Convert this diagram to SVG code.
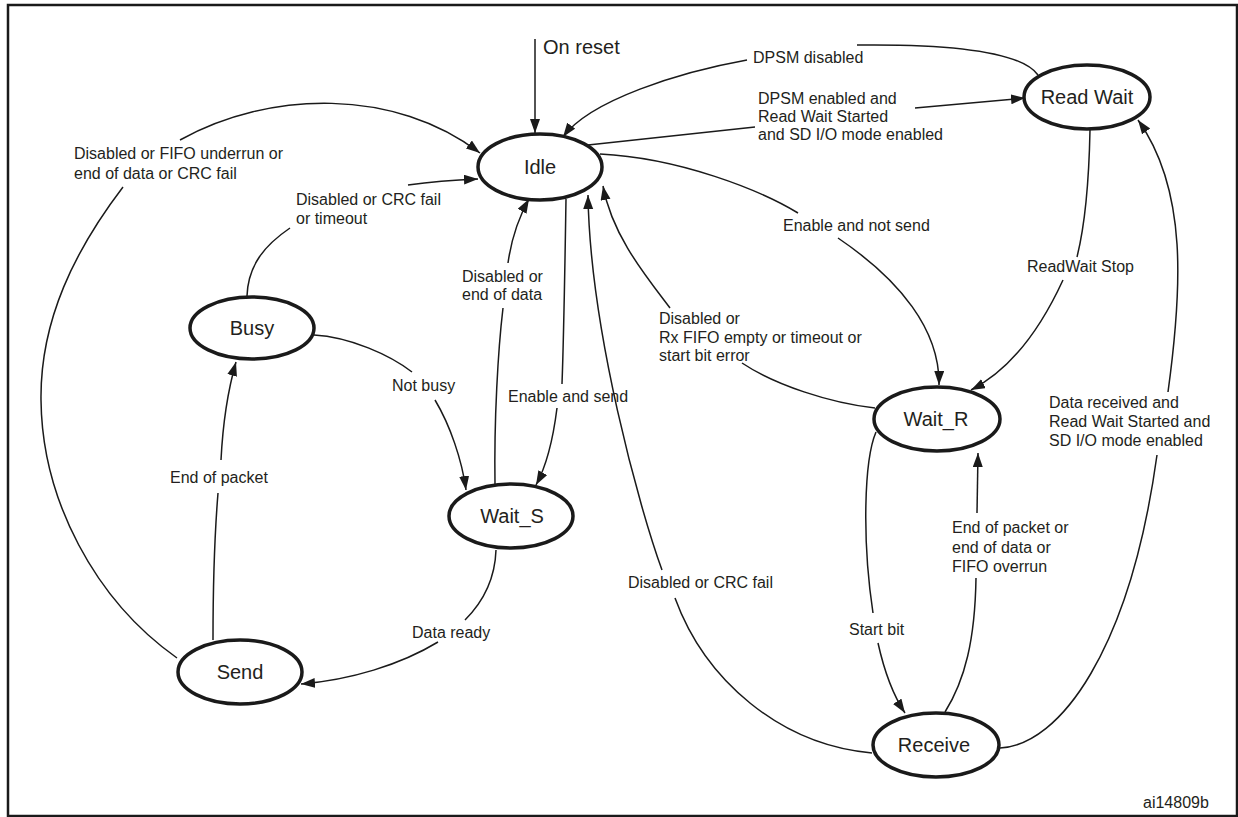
<svg xmlns="http://www.w3.org/2000/svg" width="1238" height="817" viewBox="0 0 1238 817">
<style>
.frame{fill:#fff;stroke:#1a1a1a;stroke-width:2.5}
.node ellipse{fill:#fff;stroke:#1a1a1a;stroke-width:3.5}
.node text{font-family:"Liberation Sans",Arial,sans-serif;font-size:20px;fill:#231f20;text-anchor:middle}
.lbl{font-family:"Liberation Sans",Arial,sans-serif;font-size:16px;fill:#231f20}
.big{font-size:20px}
#connectors path{fill:none;stroke:#1a1a1a;stroke-width:1.5}
</style>
<defs>
<marker id="arr" markerUnits="userSpaceOnUse" markerWidth="15" markerHeight="11" refX="14" refY="5" orient="auto">
<path d="M0,0 L14,5 L0,10 z" fill="#1a1a1a"/>
</marker>
</defs>
<rect class="frame" x="8" y="5" width="1229" height="811"/>
<g id="connectors">
<path d="M535,39 L535,133" marker-end="url(#arr)"/>
<path d="M1038,75 C1020,50 940,44 857,45"/>
<path d="M747,60 C680,72 590,100 563,137" marker-end="url(#arr)"/>
<path d="M588,145 L755,127"/>
<path d="M915,108 L1025,98" marker-end="url(#arr)"/>
<path d="M600,154 C680,158 760,190 798,213"/>
<path d="M838,238 C900,280 940,330 939,385" marker-end="url(#arr)"/>
<path d="M1090,130 C1089,180 1085,225 1077,257"/>
<path d="M1063,280 C1040,330 1010,370 971,390" marker-end="url(#arr)"/>
<path d="M1000,748 C1060,745 1130,650 1157,455"/>
<path d="M1168,392 C1182,290 1188,190 1138,120" marker-end="url(#arr)"/>
<path d="M875,408 C830,403 775,385 742,363"/>
<path d="M670,308 C645,275 612,235 603,186" marker-end="url(#arr)"/>
<path d="M872,753 C780,745 705,680 675,598"/>
<path d="M662,570 C640,510 590,330 588,195" marker-end="url(#arr)"/>
<path d="M876,432 C864,460 862,540 873,613"/>
<path d="M878,643 C884,670 893,695 905,713" marker-end="url(#arr)"/>
<path d="M945,712 C965,680 975,640 976,578"/>
<path d="M977,513 L978,453" marker-end="url(#arr)"/>
<path d="M177,658 C95,600 42,500 41,400 C40,320 75,250 123,187"/>
<path d="M180,140 C270,90 395,88 480,153" marker-end="url(#arr)"/>
<path d="M247,296 C248,265 265,245 290,228"/>
<path d="M408,185 C430,182 455,180 478,179" marker-end="url(#arr)"/>
<path d="M213,640 C213,580 215,530 218,493"/>
<path d="M221,460 C223,420 228,390 236,362" marker-end="url(#arr)"/>
<path d="M314,335 C350,337 390,355 412,372"/>
<path d="M435,400 C450,425 462,460 466,490" marker-end="url(#arr)"/>
<path d="M495,484 C494,420 498,350 503,308"/>
<path d="M508,263 C512,235 520,215 529,199" marker-end="url(#arr)"/>
<path d="M566,199 C565,260 564,330 562,384"/>
<path d="M557,408 C553,440 547,465 536,485" marker-end="url(#arr)"/>
<path d="M496,550 C495,580 483,602 465,620"/>
<path d="M438,642 C400,665 350,680 301,684" marker-end="url(#arr)"/>
</g>
<g id="node-idle" class="node"><ellipse cx="540" cy="167" rx="62" ry="33"/><text x="540" y="174">Idle</text></g>
<g id="node-readwait" class="node"><ellipse cx="1087" cy="97" rx="63" ry="32"/><text x="1087" y="104">Read Wait</text></g>
<g id="node-busy" class="node"><ellipse cx="252" cy="328" rx="62" ry="31"/><text x="252" y="335">Busy</text></g>
<g id="node-waits" class="node"><ellipse cx="511" cy="516" rx="62" ry="32"/><text x="512" y="523">Wait_S</text></g>
<g id="node-send" class="node"><ellipse cx="240" cy="672" rx="62" ry="32"/><text x="240" y="679">Send</text></g>
<g id="node-waitr" class="node"><ellipse cx="937" cy="419" rx="63" ry="32"/><text x="936" y="426">Wait_R</text></g>
<g id="node-receive" class="node"><ellipse cx="936" cy="745" rx="63" ry="32"/><text x="934" y="752">Receive</text></g>
<g id="labels" class="lbl">
<text class="big" x="543" y="54">On reset</text>
<text x="753" y="63">DPSM disabled</text>
<text x="758" y="104">DPSM enabled and</text>
<text x="758" y="122">Read Wait Started</text>
<text x="758" y="140">and SD I/O mode enabled</text>
<text x="74" y="159">Disabled or FIFO underrun or</text>
<text x="74" y="179">end of data or CRC fail</text>
<text x="296" y="205">Disabled or CRC fail</text>
<text x="296" y="224">or timeout</text>
<text x="462" y="282">Disabled or</text>
<text x="462" y="300">end of data</text>
<text x="508" y="402">Enable and send</text>
<text x="392" y="391">Not busy</text>
<text x="170" y="483">End of packet</text>
<text x="412" y="638">Data ready</text>
<text x="783" y="231">Enable and not send</text>
<text x="1027" y="272">ReadWait Stop</text>
<text x="659" y="324">Disabled or</text>
<text x="659" y="343">Rx FIFO empty or timeout or</text>
<text x="659" y="361">start bit error</text>
<text x="1049" y="408">Data received and</text>
<text x="1049" y="427">Read Wait Started and</text>
<text x="1049" y="446">SD I/O mode enabled</text>
<text x="952" y="533">End of packet or</text>
<text x="952" y="553">end of data or</text>
<text x="952" y="572">FIFO overrun</text>
<text x="849" y="635">Start bit</text>
<text x="628" y="588">Disabled or CRC fail</text>
<text x="1143" y="808">ai14809b</text>
</g>
</svg>
